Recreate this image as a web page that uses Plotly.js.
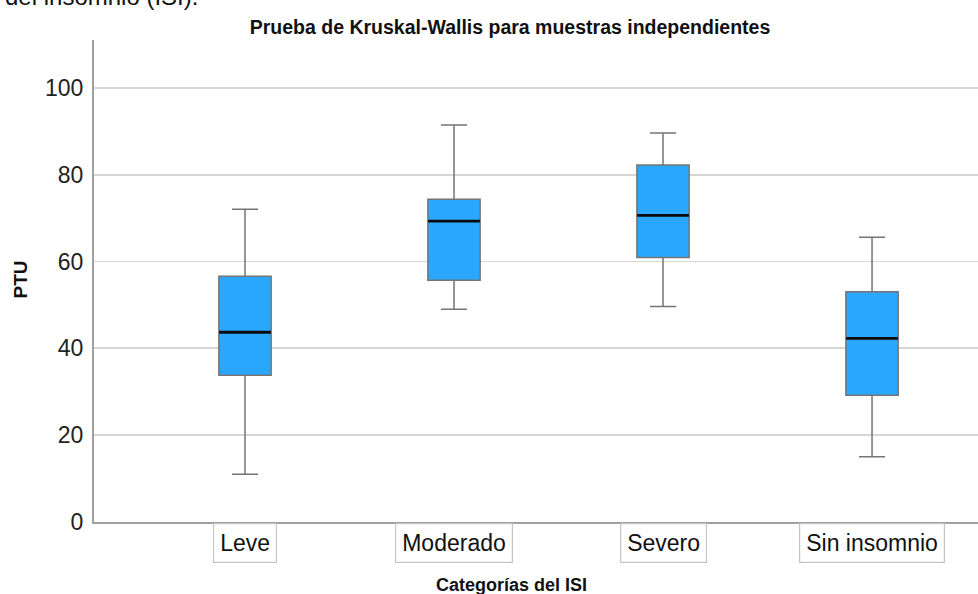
<!DOCTYPE html>
<html>
<head>
<meta charset="utf-8">
<script src="https://cdn.plot.ly/plotly-3.0.1.min.js"></script>
<style>html,body{margin:0;padding:0;background:#fff;}#chart{width:978px;height:594px;}</style>
</head>
<body>
<div id="chart"></div>
<script>
var categories = ["Leve", "Moderado", "Severo", "Sin insomnio"];
var lowerWhisker = [11.0, 49.0, 49.6, 15.0];
var q1Values = [33.8, 55.7, 60.9, 29.2];
var medianValues = [43.7, 69.3, 70.6, 42.3];
var q3Values = [56.6, 74.3, 82.2, 53.0];
var upperWhisker = [72.0, 91.4, 89.6, 65.6];
var yTickVals = [0, 20, 40, 60, 80, 100];

var font = "Liberation Sans, Arial, sans-serif";

// plot area in pixels: x 94..978, y 40..522
function px2paperX(px) { return (px - 94) / 884; }
function px2paperY(py) { return (522 - py) / 482; }

var boxTrace = {
  type: "box",
  x: categories,
  q1: q1Values,
  median: medianValues,
  q3: q3Values,
  lowerfence: lowerWhisker,
  upperfence: upperWhisker,
  fillcolor: "#2aa8ff",
  line: {color: "#747474", width: 1.5},
  width: 0.25,
  whiskerwidth: 0.5,
  boxpoints: false,
  hoverinfo: "skip",
  showlegend: false
};

var medianTrace = {
  type: "scatter",
  mode: "markers",
  x: categories,
  y: medianValues,
  marker: {symbol: "line-ew", size: 37, color: "#000", line: {color: "#0a0a0a", width: 2.8}},
  hoverinfo: "skip",
  showlegend: false
};

var annotations = categories.map(function (c) {
  return {
    x: c, xref: "x", y: 0, yref: "paper", yanchor: "top", yshift: -1,
    text: c, showarrow: false,
    font: {family: font, size: 23, color: "#111"},
    bordercolor: "#c4c4c4", borderwidth: 1.2, borderpad: 6, bgcolor: "#fff"
  };
});
annotations.push({
  x: px2paperX(511), xref: "paper", y: px2paperY(585), yref: "paper",
  text: "<b>Categorías del ISI</b>", showarrow: false, yanchor: "middle",
  font: {family: font, size: 18, color: "#111"}
});
annotations.push({
  x: px2paperX(19.5), xref: "paper", y: px2paperY(280), yref: "paper",
  text: "<b>PTU</b>", showarrow: false, textangle: -90,
  xanchor: "center", yanchor: "middle",
  font: {family: font, size: 19, color: "#111"}
});
annotations.push({
  x: px2paperX(200), xref: "paper", xanchor: "right",
  y: px2paperY(12), yref: "paper", yanchor: "bottom",
  text: "del insomnio (ISI).", showarrow: false,
  font: {family: font, size: 24, color: "#111"}
});

var layout = {
  width: 978, height: 594,
  margin: {l: 94, r: 0, t: 40, b: 72},
  paper_bgcolor: "#fff", plot_bgcolor: "#fff",
  title: {
    text: "<b>Prueba de Kruskal-Wallis para muestras independientes</b>",
    x: 510 / 978, xref: "container", xanchor: "center",
    y: 1 - 27 / 594, yref: "container", yanchor: "middle",
    font: {family: font, size: 19.5, color: "#111"}
  },
  xaxis: {
    type: "category",
    range: [-0.7225, 3.507],
    showticklabels: false,
    showgrid: false,
    showline: true, linecolor: "#a0a0a0", linewidth: 2,
    ticks: "", zeroline: false, fixedrange: true
  },
  yaxis: {
    range: [0, 111],
    tickvals: yTickVals,
    ticktext: yTickVals.map(String),
    tickfont: {family: font, size: 23, color: "#222"},
    ticklabelstandoff: 4,
    showgrid: true, gridcolor: "#d6d6d6", gridwidth: 1.8,
    showline: true, linecolor: "#a0a0a0", linewidth: 2,
    zeroline: false, ticks: "", ticklen: 0
  },
  annotations: annotations
};

Plotly.newPlot("chart", [boxTrace, medianTrace], layout, {displayModeBar: false, staticPlot: true});
</script>
</body>
</html>
